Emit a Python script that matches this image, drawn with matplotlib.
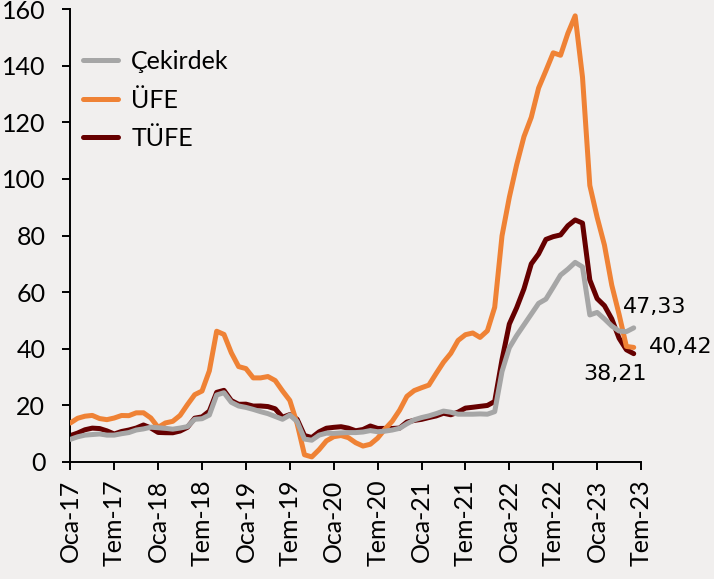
import numpy as np
import matplotlib
matplotlib.use('Agg')
import matplotlib.pyplot as plt

plt.rcParams['font.family'] = ['Lato', 'DejaVu Sans']

# aylik veriler, Oca-17 .. Haz-23 (yillik % degisim)
cekirdek = [7.9, 8.8, 9.4, 9.6, 9.8, 9.4, 9.4, 9.9, 10.3, 11.2, 11.6, 12.2,
            12.0, 11.8, 11.5, 11.9, 12.4, 15.0, 15.2, 16.5, 23.6, 24.4, 21.0, 19.7,
            19.2, 18.5, 17.7, 17.0, 16.0, 15.0, 16.5, 14.2, 8.0, 7.6, 9.4, 10.1,
            10.0, 10.2, 10.3, 10.3, 10.5, 11.0, 10.6, 10.8, 11.2, 11.8, 13.4, 14.8,
            15.6, 16.2, 17.0, 17.9, 17.5, 16.8, 16.8, 16.8, 16.9, 16.8, 17.7, 31.9,
            40.3, 44.6, 48.4, 52.2, 56.0, 57.5, 61.7, 66.0, 68.1, 70.5, 68.9, 51.9,
            52.8, 50.5, 48.0, 46.2, 46.0, 47.33]
ufe = [13.69, 15.36, 16.09, 16.37, 15.26, 14.87, 15.45, 16.34, 16.28, 17.28, 17.30, 15.47,
       12.14, 13.71, 14.28, 16.37, 20.16, 23.71, 25.00, 32.13, 46.15, 45.01, 38.54, 33.64,
       32.93, 29.64, 29.64, 30.12, 28.71, 25.04, 21.66, 13.45, 2.45, 1.70, 4.26, 7.36,
       8.84, 9.26, 8.50, 6.71, 5.53, 6.17, 8.33, 11.53, 14.33, 18.20, 23.11, 25.15,
       26.16, 27.09, 31.20, 35.17, 38.33, 42.89, 44.92, 45.52, 43.96, 46.31, 54.62, 79.89,
       93.53, 105.01, 114.97, 121.82, 132.16, 138.31, 144.61, 143.75, 151.50, 157.69, 136.02, 97.72,
       86.46, 76.61, 62.45, 52.11, 40.76, 40.42]
tufe = [9.22, 10.13, 11.29, 11.87, 11.72, 10.90, 9.79, 10.68, 11.20, 11.90, 12.98, 11.92,
        10.35, 10.26, 10.23, 10.85, 12.15, 15.39, 15.85, 17.90, 24.52, 25.24, 21.62, 20.30,
        20.35, 19.67, 19.71, 19.50, 18.71, 15.72, 16.65, 15.01, 9.26, 8.55, 10.56, 11.84,
        12.15, 12.37, 11.86, 10.94, 11.39, 12.62, 11.76, 11.77, 11.75, 11.89, 14.03, 14.60,
        14.97, 15.61, 16.19, 17.14, 16.59, 17.53, 18.95, 19.25, 19.58, 19.89, 21.31, 36.08,
        48.69, 54.44, 61.14, 69.97, 73.50, 78.62, 79.60, 80.21, 83.45, 85.51, 84.39, 64.27,
        57.68, 55.18, 50.51, 43.68, 39.59, 38.21]
tick_labels = ['Oca-17', 'Tem-17', 'Oca-18', 'Tem-18', 'Oca-19', 'Tem-19', 'Oca-20',
               'Tem-20', 'Oca-21', 'Tem-21', 'Oca-22', 'Tem-22', 'Oca-23', 'Tem-23']

bg = '#f1efee'
fig = plt.figure(figsize=(7.14, 5.79), dpi=100, facecolor=bg)
ax = fig.add_axes([0.0985, 0.2026, 0.7993, 0.7813], facecolor=bg)

x = np.arange(len(tufe))
l3, = ax.plot(x, tufe, color='#660000', lw=3.6, label='TÜFE', zorder=2, solid_capstyle='round')
l2, = ax.plot(x, ufe, color='#ef8235', lw=3.6, label='ÜFE', zorder=3, solid_capstyle='round')
l1, = ax.plot(x, cekirdek, color='#a6a6a6', lw=3.6, label='Çekirdek', zorder=4, solid_capstyle='round')

ax.set_xlim(0, 78)
ax.set_ylim(0, 160)
ax.set_xticks(np.arange(0, 79, 6))
ax.set_xticklabels(tick_labels, rotation=90)
ax.set_yticks(np.arange(0, 161, 20))

for s in ['top', 'right']:
    ax.spines[s].set_visible(False)
for s in ['left', 'bottom']:
    ax.spines[s].set_linewidth(1.4)
ax.tick_params(axis='both', labelsize=18, length=6, width=1.4, direction='out')
ax.tick_params(axis='y', pad=12)
ax.tick_params(axis='x', pad=7)

leg = ax.legend(handles=[l1, l2, l3], loc='upper left', bbox_to_anchor=(0.022, 0.910),
                frameon=False, fontsize=18, handlelength=1.4, handletextpad=0.53,
                labelspacing=0.62, borderpad=0, borderaxespad=0)

ann = dict(fontsize=16, family='DejaVu Sans', textcoords='offset points', va='center', ha='left')
ax.annotate('47,33', xy=(x[-1], cekirdek[-1]), xytext=(-8, 15), **ann)
ax.annotate('40,42', xy=(x[-1], ufe[-1]), xytext=(11, 0), **ann)
ax.annotate('38,21', xy=(x[-1], tufe[-1]), xytext=(-36.5, -15), **ann)

fig.savefig('out.png', dpi=100, facecolor=bg)
